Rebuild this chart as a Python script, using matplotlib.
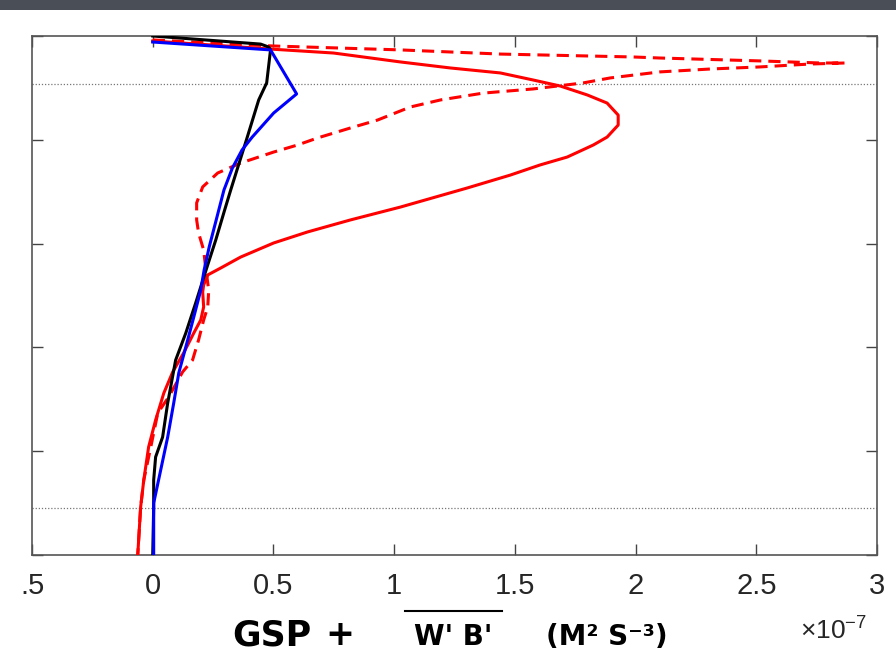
import numpy as np
import matplotlib.pyplot as plt
from matplotlib.patches import Rectangle
from matplotlib.lines import Line2D

plt.rcParams["mathtext.fontset"] = "custom"
plt.rcParams["mathtext.rm"] = "Liberation Sans"
plt.rcParams["mathtext.it"] = "Liberation Sans:italic"

# profiles, x in units of 1e-7 m^2 s^-3, z in m
black_x = [0, 0.447, 0.48, 0.488, 0.472, 0.439, 0.388, 0.362, 0.323, 0.298, 0.261,
           0.221, 0.178, 0.137, 0.095, 0.062, 0.041, 0.012, 0.004, 0.004, 0.0]
black_z = [0, -3.9, -5.3, -6.7, -22.6, -30.8, -50.1, -59.7, -74.2, -83.8, -98.3,
           -112.7, -128.6, -143.1, -156.1, -176.8, -193.2, -202.8, -213.9, -226.9, -250]

blue_x = [0, 0.488, 0.596, 0.501, 0.412, 0.37, 0.33, 0.295, 0.263, 0.234, 0.213,
          0.199, 0.17, 0.145, 0.108, 0.087, 0.062, 0.033, 0.004, 0.004]
blue_z = [-2.9, -6.7, -27.9, -37.1, -48.7, -54.9, -63.6, -74.2, -88.6, -101.6, -112.7,
          -122.4, -135.4, -146.4, -162.3, -176.8, -193.2, -209.1, -225.0, -250]

red_x = [0, 0.488, 0.749, 1.026, 1.233, 1.44, 1.576, 1.688, 1.80, 1.882, 1.928, 1.928,
         1.882, 1.825, 1.717, 1.605, 1.481, 1.303, 1.026, 0.819, 0.641, 0.501, 0.364,
         0.281, 0.228, 0.211, 0.207, 0.211, 0.199, 0.17, 0.128, 0.083, 0.046, 0.012,
         -0.017, -0.037, -0.05, -0.062]
red_z = [-2.4, -6.3, -8.2, -12.5, -15.4, -17.8, -21.2, -24.1, -28.4, -32.3, -38.1, -42.9,
         -48.7, -52.5, -58.3, -62.1, -67.0, -73.2, -82.4, -88.6, -94.4, -99.7, -106.5,
         -111.8, -115.1, -119.9, -123.3, -130.5, -136.8, -143.1, -152.7, -161.8, -172.0, -185.0,
         -198.0, -213.9, -226.9, -250]

red2_x = [0, 0.496, 1.026, 1.44, 1.99, 2.10, 2.515, 2.764, 2.867, 2.722, 2.515, 2.309,
          2.10, 1.895, 1.783, 1.576, 1.369, 1.192, 1.067, 0.931, 0.819, 0.683, 0.60,
          0.501, 0.364, 0.269, 0.207, 0.182, 0.182, 0.19, 0.211, 0.219, 0.232, 0.228,
          0.211, 0.19, 0.165, 0.124, 0.066, 0.021, -0.008, -0.037, -0.05, -0.062]
red2_z = [-1.9, -4.8, -6.7, -8.7, -10.1, -10.6, -12.0, -13.0, -13.0, -13.5, -14.9, -15.9,
          -17.3, -20.2, -22.6, -25.5, -27.5, -30.8, -34.2, -40.5, -44.3, -49.1, -52.5,
          -55.9, -61.2, -66.0, -72.7, -80.4, -88.6, -94.9, -103.1, -111.3, -122.4, -130.5,
          -136.8, -146.4, -156.1, -161.8, -173.9, -181.6, -198.0, -213.9, -226.9, -250]

xticks = [-0.5, 0, 0.5, 1, 1.5, 2, 2.5, 3]
xticklabels = [".5", "0", "0.5", "1", "1.5", "2", "2.5", "3"]
yticks = [0, -50, -100, -150, -200, -250]
ref_depths = [-23.1, -227.4]

W, H = 896, 660
fig = plt.figure(figsize=(W / 100, H / 100), dpi=100)
fig.patch.set_facecolor("white")
fig.patches.append(Rectangle((0, 1 - 10 / H), 1, 10 / H, transform=fig.transFigure,
                             facecolor="#4a4e57", edgecolor="none", zorder=0))

ax = fig.add_axes([32 / W, 1 - 555 / H, (877 - 32) / W, (555 - 36) / H])

for d in ref_depths:
    ax.axhline(d, color="#777777", ls=(0, (1, 1.5)), lw=0.9, zorder=1)

ax.plot(red_x, red_z, color="#ff0000", lw=2.2, zorder=3)
ax.plot(red2_x, red2_z, color="#ff0000", lw=2.2, ls=(0, (4, 2.3)), zorder=3)
ax.plot(black_x, black_z, color="black", lw=2.2, zorder=4)
ax.plot(blue_x, blue_z, color="#0000ff", lw=2.2, zorder=5)

ax.set_xlim(-0.5, 3)
ax.set_ylim(-250, 0)
ax.set_xticks(xticks)
ax.set_xticklabels(xticklabels, family="Liberation Sans", fontsize=21, color="#262626")
ax.set_yticks(yticks)
ax.tick_params(direction="in", length=8, width=1, color="#444444",
               top=True, right=True, labelleft=False, pad=12)
for s in ax.spines.values():
    s.set_color("#555555")
    s.set_linewidth(1.2)

# x label pieces
def fx(px):
    return px / W

def fy(py):
    return 1 - py / H

lab = dict(family="DejaVu Sans", weight="bold", color="black", va="baseline", ha="center")
fig.text(fx(272), fy(645), "GSP", fontsize=25, **lab)
fig.text(fx(340), fy(645), "+", fontsize=25, **lab)
fig.text(fx(453), fy(645), "W' B'", fontsize=20, **lab)
fig.text(fx(607), fy(645), "(M² S⁻³)", fontsize=20, **lab)
fig.add_artist(Line2D([fx(405), fx(502)], [fy(611), fy(611)], color="black", lw=1.5,
                      transform=fig.transFigure))
fig.text(fx(800), fy(640), r"$\times10^{-7}$", fontsize=19, color="#262626",
         va="baseline", ha="left")

fig.savefig("out.png", dpi=100)
